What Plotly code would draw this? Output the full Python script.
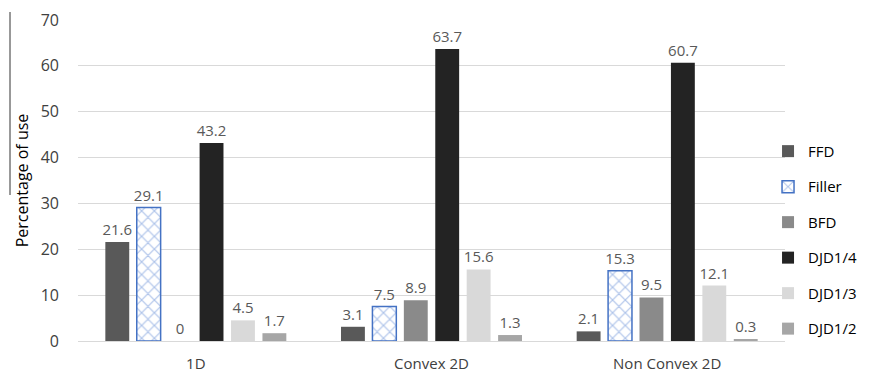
import plotly.graph_objects as go

categories = ["1D", "Convex 2D", "Non Convex 2D"]
series_names = ["FFD", "Filler", "BFD", "DJD1/4", "DJD1/3", "DJD1/2"]
ffd = [21.6, 3.1, 2.1]
filler = [29.1, 7.5, 15.3]
bfd = [0, 8.9, 9.5]
djd14 = [43.2, 63.7, 60.7]
djd13 = [4.5, 15.6, 12.1]
djd12 = [1.7, 1.3, 0.3]
y_ticks = [0, 10, 20, 30, 40, 50, 60, 70]

series_values = [ffd, filler, bfd, djd14, djd13, djd12]
fill_colors = ["#595959", "#ffffff", "#8a8a8a", "#232323", "#d9d9d9", "#a6a6a6"]

FONT = "Open Sans, Liberation Sans, sans-serif"

fig = go.Figure()
for i, (name, vals) in enumerate(zip(series_names, series_values)):
    marker = dict(color=fill_colors[i], line=dict(width=0))
    if name == "Filler":
        marker = dict(
            color="#ffffff",
            line=dict(color="#4472c4", width=1.5),
            pattern=dict(shape="x", fgcolor="#5b86d4", bgcolor="#ffffff",
                         size=9, solidity=0.25),
        )
    fig.add_trace(go.Bar(
        name=name,
        x=categories,
        y=vals,
        marker=marker,
        text=[f"{v:g}" for v in vals],
        textposition="outside",
        constraintext="none",
        textfont=dict(family=FONT, size=15, color="#595959"),
        cliponaxis=False,
        legendgroup=name,
    ))

fig.update_layout(
    width=872,
    height=380,
    margin=dict(l=78, r=87, t=20, b=39, autoexpand=False),
    paper_bgcolor="#ffffff",
    plot_bgcolor="#ffffff",
    barmode="group",
    bargap=0.2,
    bargroupgap=0.24,
    font=dict(family=FONT, color="#404040"),
    showlegend=True,
    legend=dict(
        x=0.976, xanchor="left", y=0.315, yanchor="middle",
        font=dict(family=FONT, size=15, color="#000000"),
        tracegroupgap=13,
        itemwidth=30,
        bgcolor="rgba(0,0,0,0)",
    ),
    xaxis=dict(
        showgrid=False,
        showline=False,
        ticks="",
        tickfont=dict(family=FONT, size=15, color="#404040"),
        ticklabelstandoff=12,
    ),
    yaxis=dict(
        range=[0, 70],
        tickvals=y_ticks,
        showgrid=True,
        gridcolor="#d9d9d9",
        gridwidth=1,
        zeroline=True,
        zerolinecolor="#d9d9d9",
        zerolinewidth=1,
        showline=False,
        ticks="",
        tickfont=dict(family=FONT, size=16, color="#404040"),
        ticklabelstandoff=18,
        title=dict(text="Percentage of use",
                   font=dict(family=FONT, size=16, color="#000000"),
                   standoff=8),
    ),
)

# thin vertical rule at the far left beside the axis title
fig.add_shape(type="line", xref="paper", yref="paper",
              x0=-68 / 707, x1=-68 / 707,
              y0=(341 - 12) / 321, y1=(341 - 195) / 321,
              line=dict(color="#333333", width=1))

fig.write_html("out.html")
